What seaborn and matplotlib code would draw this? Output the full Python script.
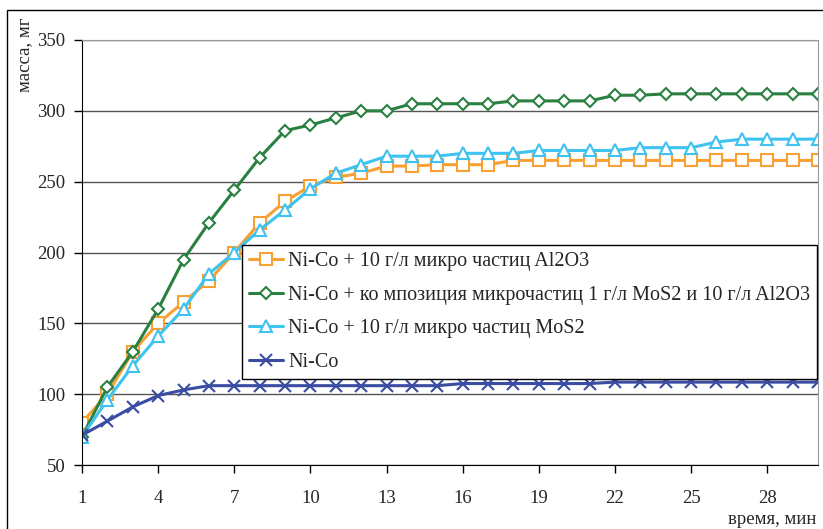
import numpy as np
import pandas as pd
import matplotlib.pyplot as plt
import seaborn as sns
from matplotlib.patches import Rectangle

# данные: масса покрытия по времени
t = list(range(1, 31))
al2o3 = [80, 100, 130, 150, 165, 180, 200, 221, 236, 247, 253, 256, 261, 261, 262,
         262, 262, 265, 265, 265, 265, 265, 265, 265, 265, 265, 265, 265, 265, 265]
composite = [70, 105, 130, 160, 195, 221, 244, 267, 286, 290, 295, 300, 300, 305, 305,
             305, 305, 307, 307, 307, 307, 311, 311, 312, 312, 312, 312, 312, 312, 312]
mos2 = [70, 96, 120, 141, 160, 185, 200, 216, 230, 245, 256, 262, 268, 268, 268,
        270, 270, 270, 272, 272, 272, 272, 274, 274, 274, 278, 280, 280, 280, 280]
nico = [71, 81, 91, 99, 103, 106, 106, 106, 106, 106, 106, 106, 106, 106, 106,
        107.5, 107.5, 107.5, 107.5, 107.5, 107.5, 108.5, 108.5, 108.5, 108.5, 108.5,
        108.5, 108.5, 108.5, 108.5]

labels = ['Ni-Co + 10 г/л микро частиц Al2O3',
          'Ni-Co + ко мпозиция микрочастиц 1 г/л MoS2 и 10 г/л Al2O3',
          'Ni-Co + 10 г/л микро частиц MoS2',
          'Ni-Co']
colors = ['#F7A033', '#2A8040', '#3EC3F0', '#3A4DA3']
markers = ['s', 'D', '^', 'x']
msizes = [9, 6.5, 9, 9]
series = [al2o3, composite, mos2, nico]

sns.set_style('white')
plt.rcParams['font.family'] = ['Liberation Serif', 'DejaVu Serif']

fig = plt.figure(figsize=(8.23, 5.29), dpi=100)
ax = fig.add_axes([82 / 823, 64 / 529, 736 / 823, 425 / 529])

for vals, lab, c, m, ms in zip(series, labels, colors, markers, msizes):
    df = pd.DataFrame({'t': t, 'v': vals})
    sns.lineplot(data=df, x='t', y='v', ax=ax, color=c, marker=m, markersize=ms,
                 markerfacecolor='white', markeredgecolor=c, markeredgewidth=1.5,
                 linewidth=2.2, label=lab)

ax.set_xlim(1, 30)
ax.set_ylim(50, 350)
ax.set_xticks(range(1, 30, 3))
ax.set_yticks(range(50, 351, 50))
ax.yaxis.grid(True, color='#555555', linewidth=1)
ax.set_axisbelow(True)
ax.tick_params(axis='both', direction='out', length=6, width=1, color='black',
               labelsize=13.5, pad=6, left=True, bottom=True)
ax.tick_params(axis='x', pad=12)
for s in ['top', 'right']:
    ax.spines[s].set_color('#999999')
for s in ['left', 'bottom']:
    ax.spines[s].set_color('black')
ax.set_xlabel('')
ax.set_ylabel('')

leg = ax.legend(loc='upper left', bbox_to_anchor=(242 / 823, (529 - 245) / 529),
                bbox_transform=fig.transFigure, fontsize=14.5, frameon=True,
                fancybox=False, edgecolor='black', framealpha=1,
                handlelength=1.7, handletextpad=0.25, labelspacing=0.72,
                borderpad=0.35, borderaxespad=0)
leg.get_frame().set_linewidth(1)

fig.text(25 / 823, 1 - 17 / 529, 'масса, мг', rotation=90, va='top', ha='center',
         fontsize=13.5)
fig.text(728 / 823, 9 / 529, 'время, мин', va='center', ha='left', fontsize=13.5)

fig.patches.append(Rectangle((7 / 823, -0.1), 2, 1 - 10 / 529 + 0.1,
                             transform=fig.transFigure, fill=False,
                             edgecolor='black', linewidth=1))

fig.savefig('out.png', dpi=100)
